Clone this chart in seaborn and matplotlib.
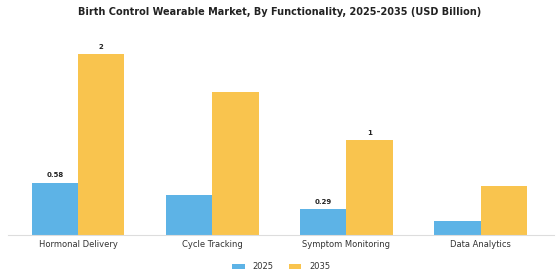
import numpy as np
import pandas as pd
import matplotlib
matplotlib.use("Agg")
import matplotlib.pyplot as plt
import seaborn as sns

categories = ["Hormonal Delivery", "Cycle Tracking", "Symptom Monitoring", "Data Analytics"]
values_2025 = [0.58, 0.44, 0.29, 0.15]
values_2035 = [2.0, 1.58, 1.05, 0.54]
years = ["2025", "2035"]
labels_2025 = ["0.58", None, "0.29", None]
labels_2035 = ["2", None, "1", None]

df = pd.DataFrame({
    "Functionality": categories * 2,
    "Year": [years[0]] * 4 + [years[1]] * 4,
    "Value": values_2025 + values_2035,
})

sns.set_style("white")
fig = plt.figure(figsize=(5.6, 2.8), dpi=100)
ax = fig.add_axes([0.015, 0.161, 0.975, 0.71])

sns.barplot(data=df, x="Functionality", y="Value", hue="Year",
            palette=["#5DB3E6", "#F9C44E"], width=0.69, ax=ax,
            saturation=1, linewidth=0, legend=True)

for cont, labs in zip(ax.containers, [labels_2025, labels_2035]):
    ax.bar_label(cont, labels=[l if l else "" for l in labs], padding=3,
                 fontsize=5, fontweight="bold", color="#222222")

ax.set_xlim(-0.52, 3.55)
ax.set_ylim(0, 2.2)
ax.set_xlabel("")
ax.set_ylabel("")
ax.set_yticks([])
ax.tick_params(axis="x", length=0, labelsize=6, pad=4, colors="#333333")
for s in ["top", "right", "left"]:
    ax.spines[s].set_visible(False)
ax.spines["bottom"].set_color("#dddddd")

ax.legend(loc="upper center", bbox_to_anchor=(0.5, -0.1), ncol=2, frameon=False,
          fontsize=6, handlelength=1.5, handleheight=0.6, handletextpad=1.0,
          columnspacing=1.8, labelcolor="#333333")

fig.suptitle("Birth Control Wearable Market, By Functionality, 2025-2035 (USD Billion)",
             fontsize=7, fontweight="bold", y=0.975, color="#222222")

fig.savefig("out.png", dpi=100)
